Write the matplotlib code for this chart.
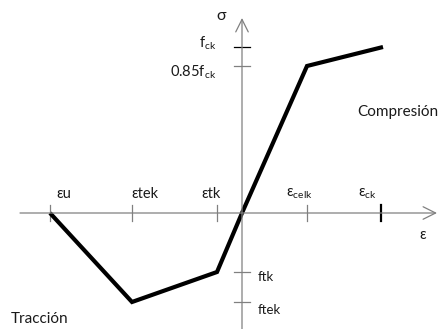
import matplotlib
matplotlib.use("Agg")
import matplotlib.pyplot as plt

plt.rcParams['font.family'] = ['Lato', 'DejaVu Sans']
plt.rcParams['mathtext.fontset'] = 'custom'
plt.rcParams['mathtext.rm'] = 'Lato'
plt.rcParams['mathtext.it'] = 'Lato'

# schematic strain / stress values (arbitrary units, origin at 0)
strain_ticks = [-192, -110, -25, 65, 139]
strain_labels = ["εu", "εtek", "εtk", "ε$_{\\rm celk}$", "ε$_{\\rm ck}$"]
stress_ticks = [166, 147, -59, -89]
stress_labels = ["f$_{\\rm ck}$", "0.85f$_{\\rm ck}$", "ftk", "ftek"]

curve_strain = [-192, -110, -25, 0, 65, 141]
curve_stress = [0, -89, -59, 0, 147, 166]

AX_COL = "#808080"
TXT = "#1a1a1a"

fig = plt.figure(figsize=(4.41, 3.29), dpi=100)
ax = fig.add_axes([0, 0, 1, 1])
ax.set_xlim(-242, 199)
ax.set_ylim(-116, 213)
ax.axis("off")

# axes with open arrow heads
arr = dict(arrowstyle="->,head_length=0.9,head_width=0.45", color=AX_COL, lw=0.9,
           shrinkA=0, shrinkB=0)
ax.annotate("", xy=(195, 0), xytext=(-222, 0), arrowprops=arr)
ax.annotate("", xy=(0, 195), xytext=(0, -116), arrowprops=arr)

# strain ticks
for i, x in enumerate(strain_ticks):
    last = i == len(strain_ticks) - 1
    ax.plot([x, x], [-8, 8], color="black" if last else AX_COL, lw=1.6 if last else 0.9)
lab_dx = [14, 13, -6, -8, -14]
for x, s, dx in zip(strain_ticks, strain_labels, lab_dx):
    ax.text(x + dx, 12, s, ha="center", va="bottom", fontsize=10.5, color=TXT)

# stress ticks
for i, y in enumerate(stress_ticks):
    ax.plot([-8, 8], [y, y], color="black" if i == 0 else AX_COL, lw=0.9)
ax.text(-26, 170, stress_labels[0], ha="right", va="center", fontsize=10.5, color=TXT)
ax.text(-26, 141, stress_labels[1], ha="right", va="center", fontsize=10.5, color=TXT)
ax.text(16, -64, stress_labels[2], ha="left", va="center", fontsize=9.5, color=TXT)
ax.text(16, -97, stress_labels[3], ha="left", va="center", fontsize=9.5, color=TXT)

# axis names
ax.text(-21, 197, "σ", ha="center", va="center", fontsize=11.5, color=TXT)
ax.text(181, -22, "ε", ha="center", va="center", fontsize=10.5, color=TXT)

ax.text(115, 101, "Compresión", ha="left", va="center", fontsize=11, color=TXT)
ax.text(-231, -106, "Tracción", ha="left", va="center", fontsize=11, color=TXT)

# stress-strain curve
ax.plot(curve_strain, curve_stress, color="black", lw=3, solid_joinstyle="miter",
        solid_capstyle="butt")

fig.savefig("out.png", dpi=100)
